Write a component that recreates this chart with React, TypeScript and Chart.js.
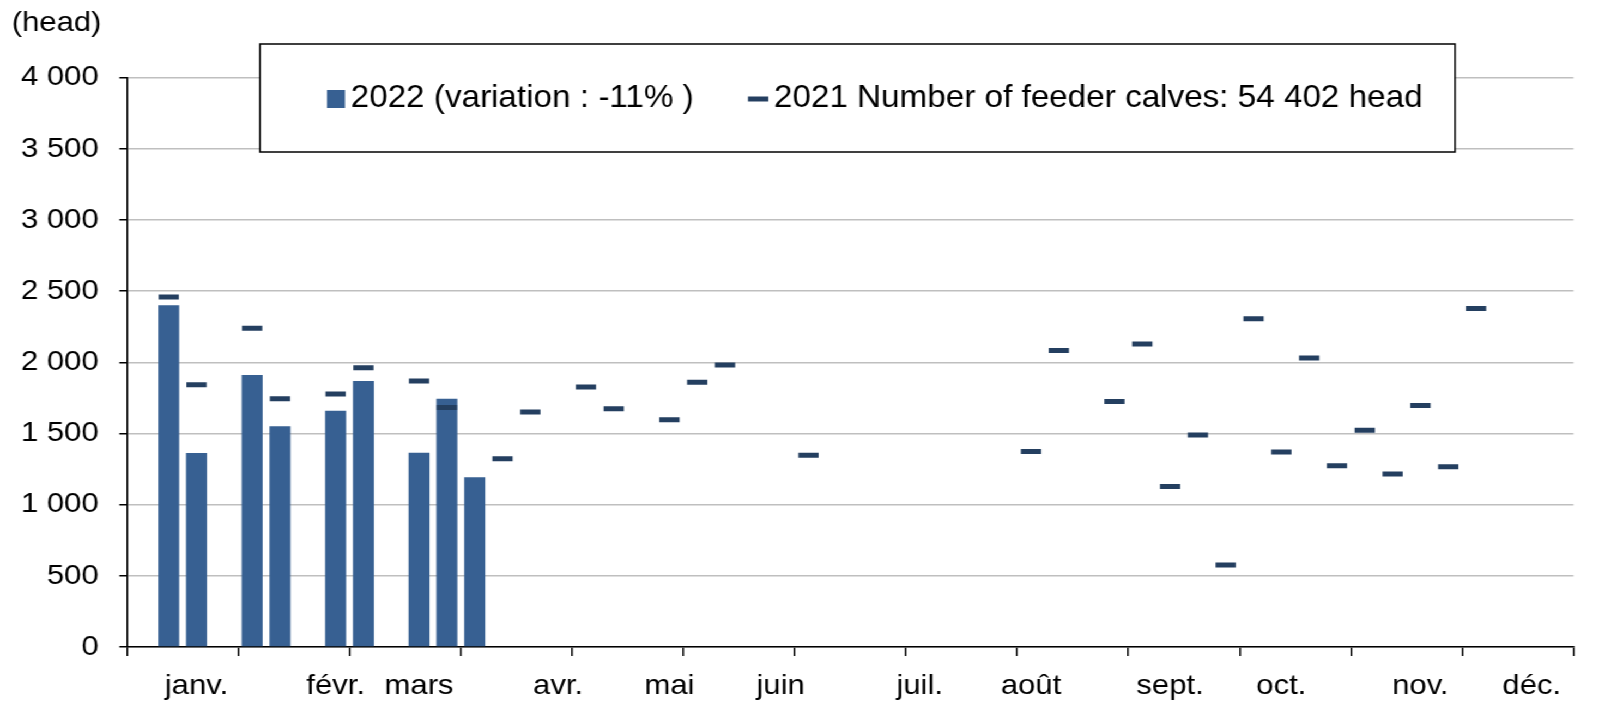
import React, { useEffect, useRef } from 'react';
import { Chart, registerables } from 'chart.js';

Chart.register(...registerables);

// ---- data ----
const categories: string[] = [
  '', '', 'janv.', '', '', '', '', 'févr.', '', '', 'mars', '', '', '',
  '', 'avr.', '', '', '', 'mai', '', '', '', 'juin', '', '', '', '',
  'juil.', '', '', '', 'août', '', '', '', '', 'sept.', '', '', '', 'oct.',
  '', '', '', '', 'nov.', '', '', '', 'déc.', '',
];

const values2022: (number | null)[] = [
  null, 2400, 1362, null, 1910, 1550, null, 1659, 1868, null, 1365, 1744, 1192,
  null, null, null, null, null, null, null, null, null, null, null, null, null,
  null, null, null, null, null, null, null, null, null, null, null, null, null,
  null, null, null, null, null, null, null, null, null, null, null, null, null,
];

const values2021: (number | null)[] = [
  null, 2458, 1842, null, 2238, 1744, null, 1777, 1962, null, 1868, 1683, null,
  1322, 1650, null, 1826, 1673, null, 1596, 1859, 1980, null, null, 1346, null,
  null, null, null, null, null, null, 1374, 2083, null, 1725, 2128, 1128, 1489,
  576, 2306, 1369, 2029, 1273, 1522, 1215, 1697, 1266, 2378, null, null, null,
];

const label2022 = '2022 (variation : -11% )';
const label2021 = '2021 Number of feeder calves: 54 402 head';
const unitLabel = '(head)';
const yTicks = { min: 0, max: 4000, step: 500 };

// ---- styling ----
const S = 1.09; // horizontal stretch of the reference rendering
const FONT = "'Liberation Sans', Arial, sans-serif";
const BAR_COLOR = '#376092';
const DASH_COLOR = '#243f60';

function fmt(v: number): string {
  if (v < 1000) return String(v);
  const th = Math.floor(v / 1000);
  const rest = String(v % 1000).padStart(3, '0');
  return `${th} ${rest}`;
}

const overlayPlugin = {
  id: 'overlay',
  afterDraw(chart: any) {
    const ctx = chart.ctx as CanvasRenderingContext2D;
    ctx.save();
    // unit label
    ctx.font = `28.5px ${FONT}`;
    ctx.fillStyle = '#000';
    ctx.textBaseline = 'middle';
    ctx.textAlign = 'left';
    ctx.fillText(unitLabel, 10.7, 23);

    // legend box
    const bx = 238.5, by = 44, bw = 1334.9 - 238.5, bh = 108;
    ctx.fillStyle = '#fff';
    ctx.fillRect(bx, by, bw, bh);
    ctx.strokeStyle = '#000';
    ctx.lineWidth = 1.5;
    ctx.strokeRect(bx, by, bw, bh);

    const cy = 99;
    ctx.fillStyle = BAR_COLOR;
    ctx.fillRect(300, cy - 9, 16.5, 18);
    ctx.font = `30.5px ${FONT}`;
    ctx.fillStyle = '#000';
    ctx.fillText(label2022, 321.7, cy);

    ctx.strokeStyle = DASH_COLOR;
    ctx.lineWidth = 5;
    ctx.beginPath();
    ctx.moveTo(686.2, cy);
    ctx.lineTo(704.9, cy);
    ctx.stroke();
    ctx.fillStyle = '#000';
    ctx.fillText(label2021, 710, cy);
    ctx.restore();
  },
};

export default function App() {
  const ref = useRef<HTMLCanvasElement | null>(null);

  useEffect(() => {
    if (!ref.current) return;
    const chart = new Chart(ref.current, {
      type: 'bar',
      data: {
        labels: categories,
        datasets: [
          {
            type: 'bar',
            label: label2022,
            data: values2022 as any,
            backgroundColor: BAR_COLOR,
            barPercentage: 0.755,
            categoryPercentage: 1,
            order: 2,
          } as any,
          {
            type: 'line',
            label: label2021,
            data: values2021 as any,
            showLine: false,
            pointStyle: 'line',
            pointRadius: 9.3,
            pointHoverRadius: 9.3,
            pointBorderWidth: 5,
            borderWidth: 5,
            borderColor: DASH_COLOR,
            pointBorderColor: DASH_COLOR,
            backgroundColor: DASH_COLOR,
            order: 1,
          } as any,
        ],
      },
      options: {
        animation: false,
        responsive: true,
        maintainAspectRatio: false,
        layout: { padding: { left: 0, right: 22.5, top: 77.5, bottom: 0 } },
        plugins: {
          legend: { display: false },
          tooltip: { enabled: false },
          title: { display: false },
        },
        scales: {
          x: {
            offset: true,
            grid: {
              offset: true,
              drawOnChartArea: false,
              drawTicks: true,
              tickLength: 9,
              lineWidth: 1.5,
              color: (c: any) =>
                c.index === undefined || c.index % 4 === 0 ? '#000' : 'rgba(0,0,0,0)',
            },
            border: { color: '#000', width: 1.5 },
            ticks: {
              autoSkip: false,
              maxRotation: 0,
              minRotation: 0,
              color: '#000',
              padding: 13,
              font: { family: FONT, size: 28.5 },
            },
            afterFit: (s: any) => {
              s.height = 57;
            },
          } as any,
          y: {
            min: yTicks.min,
            max: yTicks.max,
            ticks: {
              stepSize: yTicks.step,
              color: '#000',
              padding: 19,
              font: { family: FONT, size: 28.5 },
              callback: (v: any) => fmt(Number(v)),
            },
            grid: {
              color: '#bfbfbf',
              lineWidth: 1.5,
              tickColor: '#000',
              tickLength: 7,
            },
            border: { color: '#000', width: 1.5 },
            afterFit: (s: any) => {
              s.width = 116.5;
            },
          } as any,
        },
      },
      plugins: [overlayPlugin],
    });
    return () => chart.destroy();
  }, []);

  return (
    <div
      style={{
        position: 'fixed',
        left: 0,
        top: 0,
        width: 1598 / S,
        height: 704,
        transform: `scaleX(${S})`,
        transformOrigin: '0 0',
        background: '#fff',
      }}
    >
      <canvas ref={ref} />
    </div>
  );
}
